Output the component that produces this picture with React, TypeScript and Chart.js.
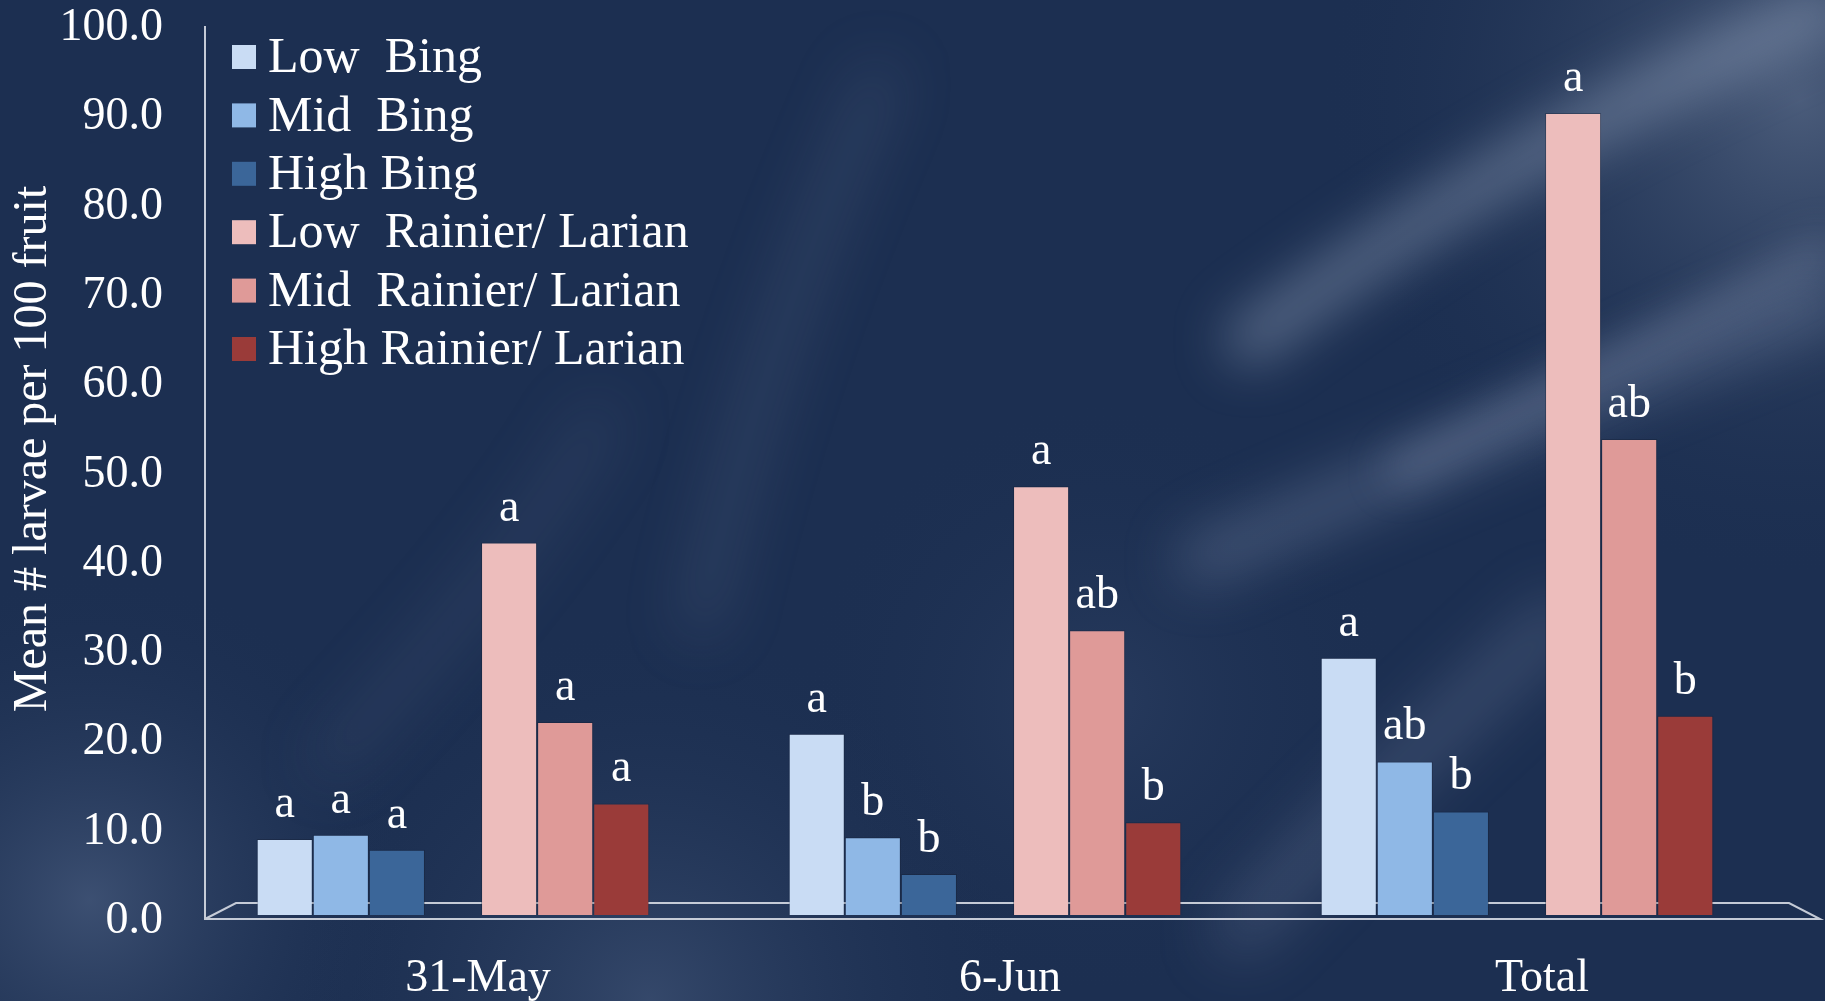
import React, { useEffect, useRef } from 'react';
import { Chart, registerables } from 'chart.js';

Chart.register(...registerables);

const categories = ['31-May', '6-Jun', 'Total'];
const seriesNames = [
  'Low  Bing',
  'Mid  Bing',
  'High Bing',
  'Low  Rainier/ Larian',
  'Mid  Rainier/ Larian',
  'High Rainier/ Larian',
];
const lowBing = [8.5, 20.3, 28.8];
const midBing = [9.0, 8.7, 17.2];
const highBing = [7.3, 4.6, 11.6];
const lowRainier = [41.7, 48.0, 89.8];
const midRainier = [21.6, 31.9, 53.3];
const highRainier = [12.5, 10.4, 22.3];

const lowBingLetters = ['a', 'a', 'a'];
const midBingLetters = ['a', 'b', 'ab'];
const highBingLetters = ['a', 'b', 'b'];
const lowRainierLetters = ['a', 'a', 'a'];
const midRainierLetters = ['a', 'ab', 'ab'];
const highRainierLetters = ['a', 'b', 'b'];

const seriesColors = ['#c9dcf4', '#8fb8e6', '#3b6699', '#edbdbc', '#df9a98', '#9a3b39'];
const yAxisTitle = 'Mean # larvae per 100 fruit';
const yMin = 0;
const yMax = 100;
const yStep = 10;

const FONT = '"Liberation Serif", "Times New Roman", serif';

const seriesValues = [lowBing, midBing, highBing, lowRainier, midRainier, highRainier];
const seriesLetters = [
  lowBingLetters,
  midBingLetters,
  highBingLetters,
  lowRainierLetters,
  midRainierLetters,
  highRainierLetters,
];

const backgroundPlugin = {
  id: 'bgPaint',
  beforeDraw(chart: any) {
    const { ctx, width, height } = chart;
    ctx.save();
    ctx.fillStyle = '#1c2f51';
    ctx.fillRect(0, 0, width, height);
    const streak = (pts: number[][], w: number, color: string, blur: number) => {
      ctx.save();
      ctx.filter = `blur(${blur}px)`;
      ctx.strokeStyle = color;
      ctx.lineWidth = w;
      ctx.lineCap = 'round';
      ctx.beginPath();
      ctx.moveTo(pts[0][0], pts[0][1]);
      if (pts.length === 3) ctx.quadraticCurveTo(pts[1][0], pts[1][1], pts[2][0], pts[2][1]);
      else ctx.lineTo(pts[1][0], pts[1][1]);
      ctx.stroke();
      ctx.restore();
    };
    const glow = (x: number, y: number, r: number, color: string) => {
      const g = ctx.createRadialGradient(x, y, 0, x, y, r);
      g.addColorStop(0, color);
      g.addColorStop(1, 'rgba(28,47,81,0)');
      ctx.fillStyle = g;
      ctx.fillRect(0, 0, width, height);
    };
    glow(90, 900, 330, 'rgba(120,140,175,0.35)');
    glow(650, 1001, 380, 'rgba(110,130,165,0.3)');
    glow(1800, 100, 480, 'rgba(150,165,190,0.38)');
    glow(1100, 700, 300, 'rgba(90,110,150,0.18)');
    streak([[1250, 340], [1520, 140], [1825, 10]], 50, 'rgba(170,185,210,0.4)', 26);
    streak([[1200, 560], [1500, 430], [1825, 300]], 44, 'rgba(160,175,205,0.32)', 28);
    streak([[1240, 930], [1400, 760], [1560, 620]], 50, 'rgba(150,165,195,0.25)', 30);
    streak([[700, 620], [760, 350], [880, 80]], 36, 'rgba(140,155,190,0.18)', 30);
    streak([[330, 760], [520, 560], [600, 420]], 40, 'rgba(130,145,180,0.14)', 30);
    streak([[1400, 470], [1620, 360], [1825, 250]], 30, 'rgba(170,185,210,0.25)', 20);
    ctx.restore();
  },
};

const framePlugin = {
  id: 'frame3d',
  beforeDatasetsDraw(chart: any) {
    const { ctx, chartArea } = chart;
    const yScale = chart.scales.y;
    const zeroY = yScale.getPixelForValue(0);
    const topY = yScale.getPixelForValue(yMax);
    const axisX = chartArea.left + 18;
    const backY = zeroY - 12;
    const frontY = zeroY + 4;
    ctx.save();
    ctx.strokeStyle = 'rgba(215,220,228,0.9)';
    ctx.lineWidth = 2;
    ctx.beginPath();
    ctx.moveTo(axisX, topY + 4);
    ctx.lineTo(axisX, frontY);
    ctx.lineTo(chartArea.right + 37, frontY);
    ctx.lineTo(chartArea.right + 6, backY);
    ctx.lineTo(axisX + 31, backY);
    ctx.lineTo(axisX, frontY);
    ctx.stroke();
    ctx.restore();
  },
};

const lettersPlugin = {
  id: 'sigLetters',
  afterDatasetsDraw(chart: any) {
    const { ctx } = chart;
    ctx.save();
    ctx.fillStyle = '#ffffff';
    ctx.font = `46px ${FONT}`;
    ctx.textAlign = 'center';
    ctx.textBaseline = 'alphabetic';
    chart.data.datasets.forEach((ds: any, i: number) => {
      const letters = ds.letters as string[] | undefined;
      if (!letters) return;
      const meta = chart.getDatasetMeta(i);
      meta.data.forEach((bar: any, j: number) => {
        if (ds.data[j] == null) return;
        ctx.fillText(letters[j], bar.x, bar.y - 22);
      });
    });
    ctx.restore();
  },
};

const legendPlugin = {
  id: 'insideLegend',
  afterDraw(chart: any) {
    const { ctx } = chart;
    ctx.save();
    ctx.font = `50px ${FONT}`;
    ctx.textAlign = 'left';
    ctx.textBaseline = 'middle';
    let row = 0;
    chart.data.datasets.forEach((ds: any) => {
      if (!ds.label) return;
      const cy = 57 + row * 58.4;
      ctx.fillStyle = ds.backgroundColor;
      ctx.fillRect(232, cy - 12, 24, 24);
      ctx.fillStyle = '#ffffff';
      ctx.fillText(ds.label, 268, cy + 2);
      row++;
    });
    ctx.restore();
  },
};

const yTitlePlugin = {
  id: 'yTitle',
  afterDraw(chart: any) {
    const { ctx } = chart;
    ctx.save();
    ctx.translate(33, 449);
    ctx.rotate(-Math.PI / 2);
    ctx.font = `48px ${FONT}`;
    ctx.fillStyle = '#ffffff';
    ctx.textAlign = 'center';
    ctx.textBaseline = 'middle';
    ctx.fillText(yAxisTitle, 0, 0);
    ctx.restore();
  },
};

export default function App() {
  const canvasRef = useRef<HTMLCanvasElement | null>(null);

  useEffect(() => {
    document.body.style.margin = '0';
    document.body.style.overflow = 'hidden';
    const canvas = canvasRef.current;
    if (!canvas) return;

    const datasets: any[] = seriesValues.map((vals, i) => ({
      label: seriesNames[i],
      data: vals,
      backgroundColor: seriesColors[i],
      borderColor: 'rgba(20,30,50,0.35)',
      borderWidth: 1,
      letters: seriesLetters[i],
    }));
    // empty spacer series that separates the Bing group from the Rainier/ Larian group
    datasets.splice(3, 0, {
      label: '',
      data: categories.map(() => null),
      backgroundColor: 'rgba(0,0,0,0)',
    });

    const chart = new Chart(canvas, {
      type: 'bar',
      data: { labels: categories, datasets },
      plugins: [backgroundPlugin, framePlugin, lettersPlugin, legendPlugin, yTitlePlugin],
      options: {
        animation: false,
        responsive: false,
        maintainAspectRatio: false,
        layout: { padding: { top: 22, right: 42, left: 0, bottom: 0 } },
        datasets: { bar: { categoryPercentage: 0.738, barPercentage: 1.0 } },
        plugins: {
          legend: { display: false },
          tooltip: { enabled: false },
          title: { display: false },
        },
        scales: {
          x: {
            grid: { display: false, drawTicks: false },
            border: { display: false },
            ticks: {
              color: '#ffffff',
              font: { family: FONT, size: 46 },
              padding: 36,
              labelOffset: 25,
              maxRotation: 0,
            },
            afterFit(scale: any) {
              scale.height = 86;
            },
          },
          y: {
            min: yMin,
            max: yMax,
            grid: { display: false, drawTicks: false },
            border: { display: false },
            ticks: {
              stepSize: yStep,
              color: '#ffffff',
              font: { family: FONT, size: 46 },
              padding: 24,
              labelOffset: 6,
              callback: (v: any) => Number(v).toFixed(1),
            },
            afterFit(scale: any) {
              scale.width = 187;
              scale.paddingTop = 0;
              scale.paddingBottom = 0;
            },
          },
        },
      } as any,
    });
    return () => chart.destroy();
  }, []);

  return (
    <div style={{ width: 1825, height: 1001, position: 'relative' }}>
      <canvas ref={canvasRef} width={1825} height={1001} style={{ display: 'block' }} />
    </div>
  );
}
